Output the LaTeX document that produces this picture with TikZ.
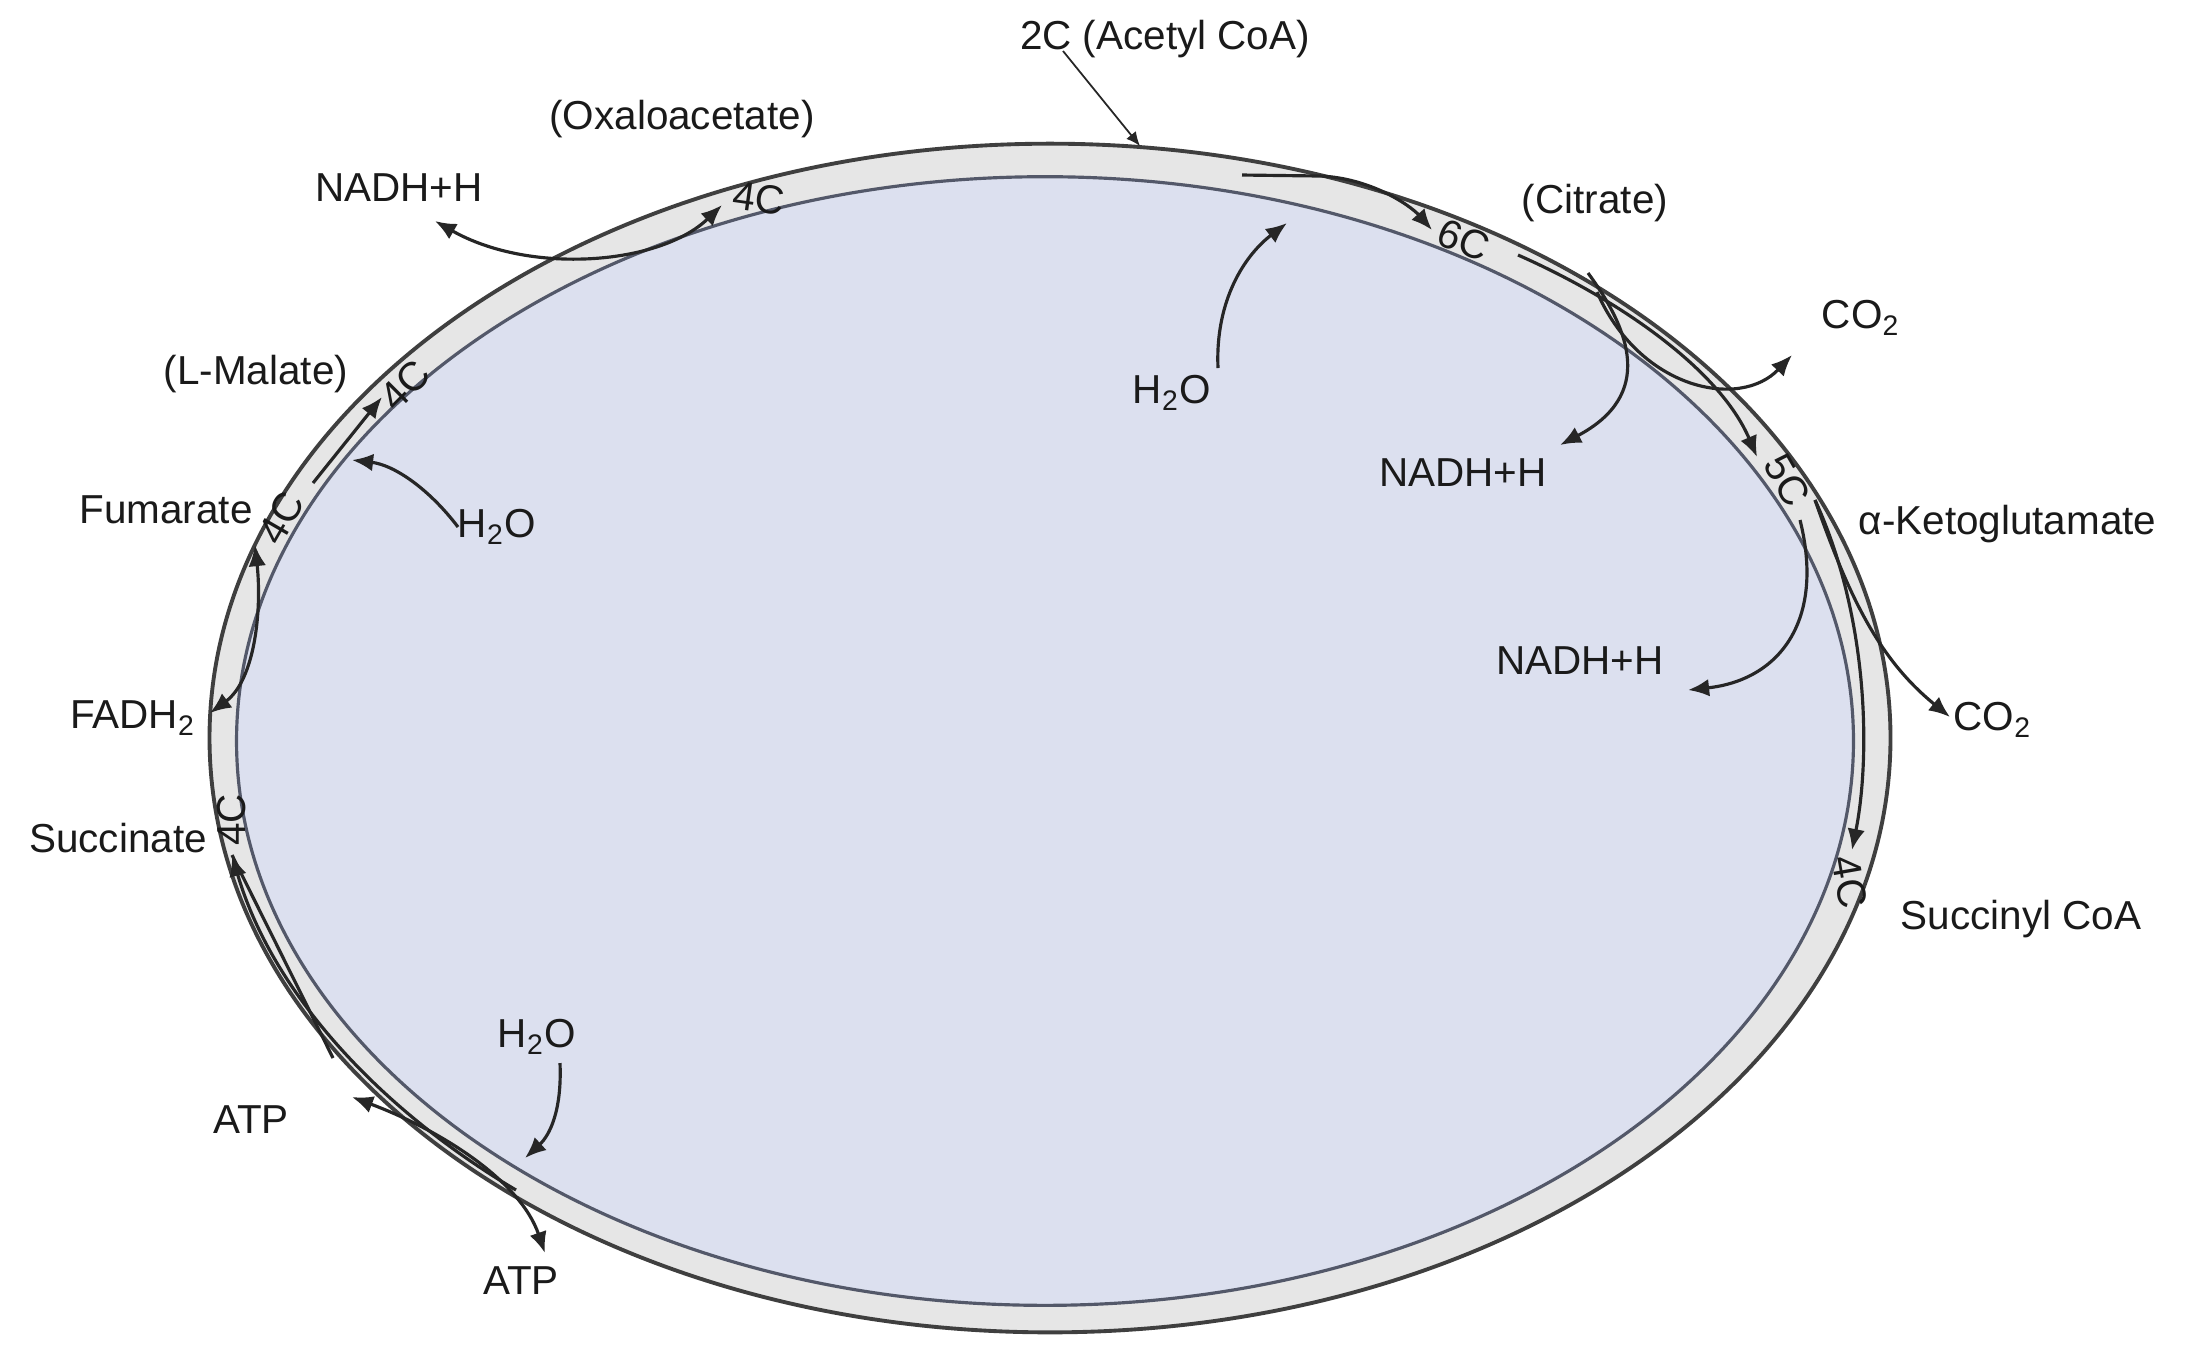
\documentclass[tikz,border=0pt]{standalone}
\usepackage{fontspec}
\setmainfont{Liberation Sans}
\usetikzlibrary{arrows.meta}
\definecolor{bandgray}{HTML}{E6E6E6}
\definecolor{innerfill}{HTML}{DCE0EF}
\definecolor{outerline}{HTML}{3F3F3F}
\definecolor{innerline}{HTML}{535869}
\definecolor{arrowcol}{HTML}{262626}
\definecolor{txt}{HTML}{1A1A1A}
\begin{document}
\begin{tikzpicture}[x=0.01cm,y=-0.01cm,
  lbl/.style={font=\fontsize{11.5}{13}\selectfont, text=txt, inner sep=0pt},
  flow/.style={draw=arrowcol, line width=0.9pt, -{Latex[length=6pt,width=5pt]}},
  flowboth/.style={draw=arrowcol, line width=0.9pt, {Latex[length=6pt,width=5pt]}-{Latex[length=6pt,width=5pt]}},
  plainline/.style={draw=arrowcol, line width=0.9pt},
  feed/.style={draw=arrowcol, line width=0.5pt, -{Latex[length=4pt,width=3.5pt]}}]
\useasboundingbox (0,0) rectangle (2185,1356);
\fill[white] (0,0) rectangle (2185,1356);
% membrane band and matrix
\draw[fill=bandgray, draw=outerline, line width=1.1pt] (1050,738) ellipse [x radius=8.40cm, y radius=5.94cm];
\draw[fill=innerfill, draw=innerline, line width=0.9pt] (1045,741) ellipse [x radius=8.08cm, y radius=5.64cm];
% labels
\node[lbl] (acetyl) at (1165,39) {2C (Acetyl CoA)};
\node[lbl] (oxalo) at (682,119) {(Oxaloacetate)};
\node[lbl] (nadhA) at (399,188) {NADH+H};
\node[lbl, rotate=-8] (cfourA) at (759,198) {4C};
\node[lbl] (citrate) at (1595,203) {(Citrate)};
\node[lbl, rotate=-22] (csix) at (1464,240) {6C};
\node[lbl] (waterA) at (1172,393) {H\textsubscript{2}O};
\node[lbl] (coA) at (1861,318) {CO\textsubscript{2}};
\node[lbl] (nadhB) at (1463,473) {NADH+H};
\node[lbl, rotate=-60] (cfive) at (1787,480) {5C};
\node[lbl, anchor=west] (akg) at (1858,524) {α-Ketoglutamate};
\node[lbl] (nadhC) at (1580,661) {NADH+H};
\node[lbl, anchor=west] (coB) at (1953,720) {CO\textsubscript{2}};
\node[lbl, rotate=-80] (cfourD) at (1850,882) {4C};
\node[lbl] (succoa) at (2021,919) {Succinyl CoA};
\node[lbl] (malate) at (256,374) {(L-Malate)};
\node[lbl, rotate=45] (cfourB) at (405,385) {4C};
\node[lbl] (waterB) at (497,527) {H\textsubscript{2}O};
\node[lbl] (fumarate) at (166,510) {Fumarate};
\node[lbl, rotate=60] (cfourC) at (281,518) {4C};
\node[lbl] (fadh) at (133,718) {FADH\textsubscript{2}};
\node[lbl] (succinate) at (118,838) {Succinate};
\node[lbl, rotate=90] (cfourE) at (232,820) {4C};
\node[lbl] (waterC) at (537,1037) {H\textsubscript{2}O};
\node[lbl] (atpA) at (251,1120) {ATP};
\node[lbl] (atpB) at (521,1281) {ATP};
% connector end points
\coordinate (acS) at (1063,51);
\coordinate (acE) at (1140,146);
\coordinate (oxA) at (435,221);
\coordinate (oxB) at (722,205);
\coordinate (sxS) at (1242,175);
\coordinate (sxM) at (1320,176);
\coordinate (sxE) at (1432,230);
\coordinate (waS) at (1218,368);
\coordinate (waE) at (1287,223);
\coordinate (ciS) at (1518,255);
\coordinate (ciE) at (1757,457);
\coordinate (nbS) at (1588,273);
\coordinate (nbE) at (1560,445);
\coordinate (caS) at (1597,292);
\coordinate (caE) at (1792,355);
\coordinate (fvS) at (1815,500);
\coordinate (fvE) at (1852,850);
\coordinate (cbE) at (1950,717);
\coordinate (ncS) at (1800,520);
\coordinate (ncE) at (1688,690);
\coordinate (mlS) at (313,483);
\coordinate (mlE) at (382,397);
\coordinate (wbS) at (458,527);
\coordinate (wbE) at (352,460);
\coordinate (fdA) at (210,713);
\coordinate (fdB) at (255,545);
\coordinate (suS) at (516,1190);
\coordinate (suE) at (232,855);
\coordinate (suL) at (333,1058);
\coordinate (atA) at (352,1097);
\coordinate (atB) at (545,1253);
\coordinate (wcS) at (560,1063);
\coordinate (wcE) at (525,1158);
% connectors
\draw[feed] (acS) -- (acE);
\draw[flowboth] (oxA) .. controls (530,275) and (660,265) .. (oxB);
\draw[flow] (sxS) -- (sxM) .. controls (1370,178) and (1410,205) .. (sxE);
\draw[flow] (waS) .. controls (1215,300) and (1245,255) .. (waE);
\draw[flow] (ciS) .. controls (1620,300) and (1720,370) .. (ciE);
\draw[flow] (nbS) .. controls (1630,330) and (1655,395) .. (nbE);
\draw[flow] (caS) .. controls (1640,390) and (1740,410) .. (caE);
\draw[flow] (fvS) .. controls (1870,620) and (1870,760) .. (fvE);
\draw[flow] (fvS) .. controls (1850,600) and (1880,660) .. (cbE);
\draw[flow] (ncS) .. controls (1825,620) and (1780,680) .. (ncE);
\draw[flow] (mlS) -- (mlE);
\draw[flow] (wbS) .. controls (430,490) and (395,465) .. (wbE);
\draw[flowboth] (fdA) .. controls (255,680) and (262,610) .. (fdB);
\draw[flow] (suS) .. controls (371,1104) and (270,986) .. (suE);
\draw[plainline] (suL) -- (suE);
\draw[flowboth] (atA) .. controls (440,1130) and (520,1180) .. (atB);
\draw[flow] (wcS) .. controls (562,1110) and (550,1135) .. (wcE);
\end{tikzpicture}
\end{document}
